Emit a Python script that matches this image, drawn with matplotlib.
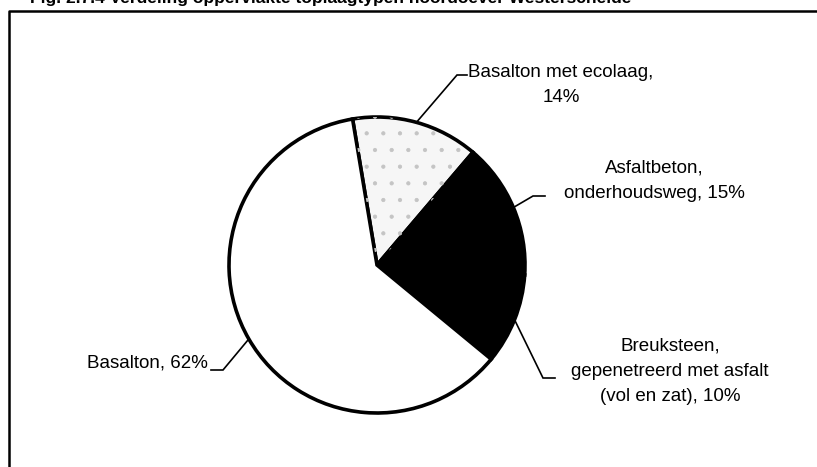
import numpy as np
import matplotlib.pyplot as plt
from matplotlib.patches import Wedge

plt.rcParams['font.family'] = ['Liberation Sans', 'DejaVu Sans']
plt.rcParams['hatch.linewidth'] = 0.6

# slice data (clockwise from the top)
labels = ['Basalton met ecolaag,\n14%',
          'Asfaltbeton,\nonderhoudsweg, 15%',
          'Breuksteen,\ngepenetreerd met asfalt\n(vol en zat), 10%',
          'Basalton, 62%']
values = [14, 15, 10, 62]
colors = ['#f6f6f6', 'black', 'black', 'white']

W, H = 817, 467
fig = plt.figure(figsize=(W / 100, H / 100), dpi=100)
ax = fig.add_axes([0, 0, 1, 1])

cx, cy, r = 377, H - 265, 148
wedges, _ = ax.pie(values, colors=colors, startangle=99.5, counterclock=False,
                   center=(cx, cy), radius=r,
                   wedgeprops=dict(edgecolor='black', linewidth=2.6))

# light stipple on the ecolaag slice
w0 = wedges[0]
ax.add_patch(Wedge(w0.center, w0.r, w0.theta1, w0.theta2, fill=False,
                   edgecolor='#c4c4c4', linewidth=0, hatch='.', zorder=w0.get_zorder() + 0.1))

# label placement: (text x, text y, elbow x, elbow y, end x, ha)
label_pos = [
    (561, 85, 457, 75, 467, 'center'),
    (654, 181, 533, 196, 545, 'center'),
    (670, 371, 543, 378, 555, 'center'),
    (208, 363, 223, 370, 211, 'right'),
]

for w, lab, (tx, ty, ex, ey, hx, ha) in zip(wedges, labels, label_pos):
    mid = np.deg2rad((w.theta1 + w.theta2) / 2)
    px = cx + r * np.cos(mid)
    py = cy + r * np.sin(mid)
    ax.plot([px, ex, hx], [py, H - ey, H - ey], color='black', lw=1.2,
            solid_joinstyle='miter')
    ax.text(tx, H - ty, lab, ha=ha, va='center', multialignment='center',
            fontsize=13.5, linespacing=1.62)

ax.set_xlim(0, W)
ax.set_ylim(0, H)
ax.set_aspect('equal')
ax.axis('off')

# frame around the chart (runs off the right and bottom edge)
ax.plot([9, 9, W + 5], [-5, H - 11, H - 11], color='black', lw=1.8,
        clip_on=False)

# figure caption, mostly cut off by the top edge as in the scan
fig.text(30 / W, 1 - 3 / H,
         'Fig. 2.7.4 Verdeling oppervlakte toplaagtypen noordoever Westerschelde',
         fontsize=12.5, fontweight='bold', ha='left', va='baseline')

fig.savefig('out.png', dpi=100)
